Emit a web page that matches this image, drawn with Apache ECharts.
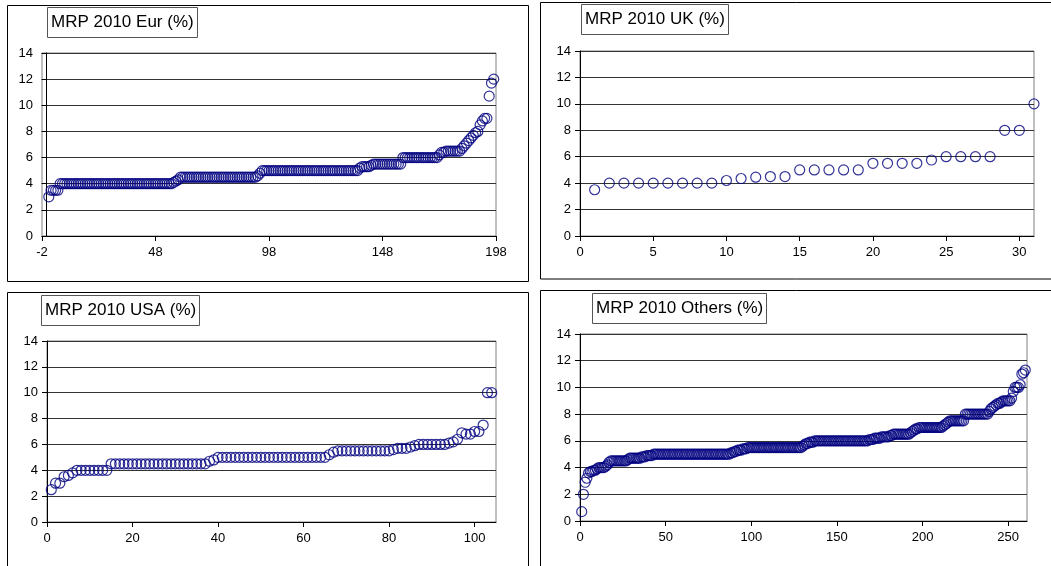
<!DOCTYPE html>
<html>
<head>
<meta charset="utf-8">
<script src="https://cdn.jsdelivr.net/npm/echarts@6.0.0/dist/echarts.min.js"></script>
<style>
  html, body { margin: 0; padding: 0; background: #fff; }
  #chart { width: 1051px; height: 566px; }
</style>
</head>
<body>
<div id="chart"></div>
<script>
// MRP 2010 survey answers, sorted ascending, one value per respondent
const eurValues = [
  3,
  3.5, 3.5, 3.5, 3.5,
  4, 4, 4, 4, 4, 4, 4, 4, 4, 4,
  4, 4, 4, 4, 4, 4, 4, 4, 4, 4,
  4, 4, 4, 4, 4, 4, 4, 4, 4, 4,
  4, 4, 4, 4, 4, 4, 4, 4, 4, 4,
  4, 4, 4, 4, 4, 4, 4, 4, 4, 4,
  4.1, 4.2, 4.3,
  4.5, 4.5, 4.5, 4.5, 4.5, 4.5, 4.5, 4.5, 4.5, 4.5,
  4.5, 4.5, 4.5, 4.5, 4.5, 4.5, 4.5, 4.5, 4.5, 4.5,
  4.5, 4.5, 4.5, 4.5, 4.5, 4.5, 4.5, 4.5, 4.5, 4.5,
  4.5, 4.5, 4.5, 4.5,
  4.6, 4.8,
  5, 5, 5, 5, 5, 5, 5, 5, 5, 5,
  5, 5, 5, 5, 5, 5, 5, 5, 5, 5,
  5, 5, 5, 5, 5, 5, 5, 5, 5, 5,
  5, 5, 5, 5, 5, 5, 5, 5, 5, 5,
  5, 5, 5,
  5.2, 5.3, 5.3, 5.3, 5.3, 5.4,
  5.5, 5.5, 5.5, 5.5, 5.5, 5.5, 5.5, 5.5, 5.5, 5.5, 5.5, 5.5, 5.5,
  6, 6, 6, 6, 6, 6, 6, 6, 6, 6, 6, 6, 6, 6, 6, 6,
  6.2, 6.4, 6.4,
  6.5, 6.5, 6.5, 6.5, 6.5, 6.5, 6.5,
  6.7, 6.9, 7.1, 7.3, 7.5, 7.7, 7.9, 8, 8.5, 8.8, 9, 9, 10.7, 11.7, 12
];

const ukValues = [
  3.5, 4, 4, 4, 4, 4, 4, 4, 4, 4.2, 4.35, 4.45, 4.5, 4.5, 5, 5, 5, 5, 5,
  5.5, 5.5, 5.5, 5.5, 5.75, 6, 6, 6, 6, 8, 8, 10
];

const usaValues = [
  2.5, 3, 3, 3.5, 3.6, 3.8,
  4, 4, 4, 4, 4, 4, 4, 4,
  4.5, 4.5, 4.5, 4.5, 4.5, 4.5, 4.5, 4.5, 4.5, 4.5,
  4.5, 4.5, 4.5, 4.5, 4.5, 4.5, 4.5, 4.5, 4.5, 4.5,
  4.5, 4.5, 4.5,
  4.7, 4.8,
  5, 5, 5, 5, 5, 5, 5, 5, 5, 5,
  5, 5, 5, 5, 5, 5, 5, 5, 5, 5,
  5, 5, 5, 5, 5, 5,
  5.2, 5.4,
  5.5, 5.5, 5.5, 5.5, 5.5, 5.5, 5.5, 5.5, 5.5, 5.5, 5.5, 5.5, 5.5,
  5.6, 5.7, 5.7, 5.7, 5.8, 5.9,
  6, 6, 6, 6, 6, 6, 6,
  6.1, 6.2, 6.4,
  6.9, 6.8, 6.8, 7, 7, 7.5, 10, 10
];

const othersValues = [
  0.7, 2, 2.9, 3.2, 3.6, 3.7, 3.7, 3.8, 3.8, 3.9,
  4, 4, 4, 4, 4.1, 4.2, 4.4,
  4.5, 4.5, 4.5, 4.5, 4.5, 4.5, 4.5, 4.5, 4.5, 4.5,
  4.6,
  4.7, 4.7, 4.7, 4.7, 4.7, 4.7, 4.7,
  4.8, 4.8, 4.8,
  4.9, 4.9, 4.9, 4.9,
  5, 5, 5, 5, 5, 5, 5, 5, 5, 5,
  5, 5, 5, 5, 5, 5, 5, 5, 5, 5,
  5, 5, 5, 5, 5, 5, 5, 5, 5, 5,
  5, 5, 5, 5, 5, 5, 5, 5, 5, 5,
  5, 5, 5, 5, 5,
  5.1, 5.1, 5.2, 5.2, 5.3, 5.3, 5.3, 5.4, 5.4, 5.4,
  5.5, 5.5, 5.5, 5.5, 5.5, 5.5, 5.5, 5.5, 5.5, 5.5,
  5.5, 5.5, 5.5, 5.5, 5.5, 5.5, 5.5, 5.5, 5.5, 5.5,
  5.5, 5.5, 5.5, 5.5, 5.5, 5.5, 5.5, 5.5, 5.5, 5.5,
  5.5, 5.5,
  5.6, 5.7, 5.8, 5.8, 5.9, 5.9, 5.9,
  6, 6, 6, 6, 6, 6, 6, 6, 6, 6,
  6, 6, 6, 6, 6, 6, 6, 6, 6, 6,
  6, 6, 6, 6, 6, 6, 6, 6, 6, 6,
  6, 6,
  6.1, 6.1, 6.1, 6.2, 6.2, 6.2, 6.2, 6.3, 6.3, 6.3, 6.3, 6.3, 6.4, 6.4,
  6.5, 6.5, 6.5, 6.5, 6.5, 6.5, 6.5, 6.5, 6.5, 6.5,
  6.6, 6.7, 6.8, 6.9, 6.9,
  7, 7, 7, 7, 7, 7, 7, 7, 7, 7, 7, 7, 7, 7,
  7.1, 7.2, 7.3, 7.4,
  7.5, 7.5, 7.5, 7.5, 7.5, 7.5, 7.5, 7.5, 7.5,
  8, 8, 8, 8, 8, 8, 8, 8, 8, 8, 8, 8, 8, 8,
  8.2, 8.4, 8.5, 8.6, 8.7, 8.8, 8.8, 8.9, 9, 9, 9, 9, 9, 9.2, 9.7,
  10, 10, 10, 10.2, 11, 11.1, 11.3
];

const titles = ['MRP 2010 Eur (%)', 'MRP 2010 UK (%)', 'MRP 2010 USA (%)', 'MRP 2010 Others (%)'];
const xMins = [-2, 0, 0, 0];
const xMaxs = [198, 31, 105, 261];
const xSteps = [50, 5, 20, 50];
const yMin = 0, yMax = 14, yStep = 2;

const seriesValues = [eurValues, ukValues, usaValues, othersValues];

// panel geometry (px)
const frames = [
  { x: 7.5, y: 5.5, w: 521, h: 276 },
  { x: 540.5, y: 2.5, w: 530, h: 276.5 },
  { x: 7.5, y: 292.5, w: 521, h: 300 },
  { x: 540.5, y: 290.5, w: 530, h: 300 }
];
const plots = [
  { left: 42, top: 53, width: 454, height: 183 },
  { left: 580, top: 51, width: 454, height: 185 },
  { left: 47, top: 341, width: 449, height: 181 },
  { left: 580, top: 334, width: 447, height: 187 }
];
const titlePos = [
  { left: 47, top: 7 },
  { left: 581, top: 4 },
  { left: 41, top: 295 },
  { left: 592, top: 293 }
];

const font = '"Liberation Sans", Arial, sans-serif';
const navy = '#000080';

const chart = echarts.init(document.getElementById('chart'), null, { renderer: 'canvas' });

const option = {
  animation: false,
  backgroundColor: '#fff',
  title: titles.map((t, i) => ({
    text: t,
    left: titlePos[i].left,
    top: titlePos[i].top,
    padding: [6, 4, 6, 4],
    borderColor: '#555',
    borderWidth: 1,
    textStyle: { fontFamily: font, fontSize: 17, fontWeight: 'normal', color: '#000', lineHeight: 19 }
  })),
  graphic: frames.map(f => ({
    type: 'rect',
    silent: true,
    z: -1,
    shape: { x: f.x, y: f.y, width: f.w, height: f.h },
    style: { fill: 'none', stroke: '#000', lineWidth: 1 }
  })),
  grid: plots.map(p => ({
    left: p.left, top: p.top, width: p.width, height: p.height,
    show: true, borderColor: '#808080', borderWidth: 1, backgroundColor: 'transparent'
  })),
  xAxis: plots.map((p, i) => ({
    type: 'value',
    gridIndex: i,
    min: xMins[i],
    max: xMaxs[i],
    interval: xSteps[i],
    axisLine: { show: true, onZero: true, lineStyle: { color: '#000', width: 1 } },
    axisTick: { show: true, length: 5, lineStyle: { color: '#000' } },
    axisLabel: {
      color: '#000', fontFamily: font, fontSize: 13, margin: 10,
      showMaxLabel: (xMaxs[i] - xMins[i]) % xSteps[i] === 0
    },
    splitLine: { show: false }
  })),
  yAxis: plots.map((p, i) => ({
    type: 'value',
    gridIndex: i,
    min: yMin,
    max: yMax,
    interval: yStep,
    // Excel crosses the value axis at x = 0
    axisLine: { show: true, onZero: true, lineStyle: { color: '#000', width: 1 } },
    axisTick: { show: true, length: 5, lineStyle: { color: '#000' } },
    axisLabel: { color: '#000', fontFamily: font, fontSize: 13, margin: 9 },
    splitLine: { show: true, lineStyle: { color: '#333', width: 1 } }
  })),
  series: seriesValues.map((vals, i) => ({
    type: 'scatter',
    xAxisIndex: i,
    yAxisIndex: i,
    symbol: 'circle',
    symbolSize: 10,
    itemStyle: { color: 'transparent', borderColor: navy, borderWidth: 1.2 },
    data: vals.map((v, k) => [k + 1, v])
  }))
};

chart.setOption(option);
</script>
</body>
</html>
